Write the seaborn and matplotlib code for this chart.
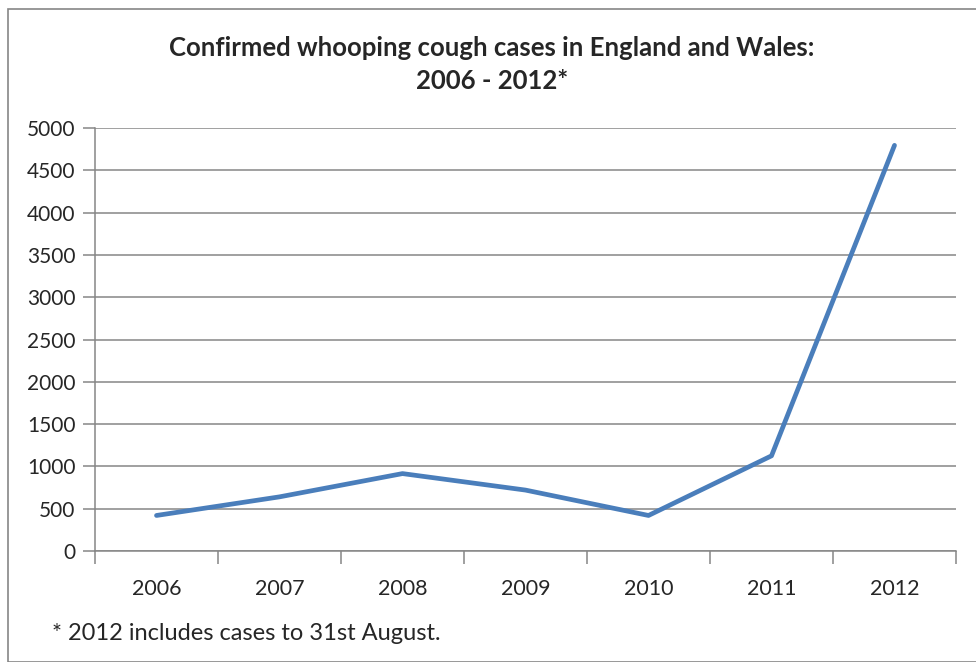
import numpy as np
import pandas as pd
import matplotlib
matplotlib.use("Agg")
import matplotlib.pyplot as plt
from matplotlib.patches import Rectangle
import seaborn as sns

# values
years = ["2006", "2007", "2008", "2009", "2010", "2011", "2012"]
cases = [420, 640, 915, 720, 420, 1125, 4795]
yticks = [0, 500, 1000, 1500, 2000, 2500, 3000, 3500, 4000, 4500, 5000]

sns.set_style("white")
plt.rcParams["font.family"] = ["Lato", "DejaVu Sans"]

df = pd.DataFrame({"pos": np.arange(len(years)), "cases": cases})

fig = plt.figure(figsize=(9.76, 6.62), dpi=100)
ax = fig.add_axes([95/976, 1-551/662, (956-95)/976, (551-128)/662])

grey = "#868686"
for y in yticks:
    ax.axhline(y, color=grey, linewidth=1.1, zorder=1)

sns.lineplot(data=df, x="pos", y="cases", ax=ax, color="#4A7EBB",
             linewidth=3.4, solid_capstyle="round", zorder=3)

ax.set_xlim(-0.5, len(years) - 0.5)
ax.set_ylim(0, 5000)
ax.set_yticks(yticks)
ax.set_yticklabels([str(y) for y in yticks], fontsize=15)
ax.set_xticks(np.arange(len(years)))
ax.set_xticklabels(years, fontsize=15.5)
ax.tick_params(axis="x", which="major", length=0, pad=20)
ax.set_xticks(np.arange(len(years) + 1) - 0.5, minor=True)
ax.tick_params(axis="x", which="minor", length=9, color=grey, width=1.1, direction="out")
ax.tick_params(axis="y", length=9, color=grey, width=1.1, direction="out", pad=5)
ax.tick_params(axis="x", which="minor", bottom=True)
ax.tick_params(axis="y", left=True)
ax.set_xlabel("")
ax.set_ylabel("")
for side in ["top", "right"]:
    ax.spines[side].set_visible(False)
for side in ["left", "bottom"]:
    ax.spines[side].set_color(grey)
    ax.spines[side].set_linewidth(1.1)

fig.text(492/976, 1-48/662, "Confirmed whooping cough cases in England and Wales:",
         ha="center", va="center", fontsize=18.5, fontweight="bold")
fig.text(492/976, 1-81/662, "2006 - 2012*",
         ha="center", va="center", fontsize=18.5, fontweight="bold")
fig.text(52/976, 1-634/662, "* 2012 includes cases to 31st August.",
         ha="left", va="center", fontsize=17)

fig.patches.append(Rectangle((8/976, 0), 1, 1-9/662, transform=fig.transFigure,
                             fill=False, edgecolor=grey, linewidth=1.2))

fig.savefig("out.png", dpi=100)
